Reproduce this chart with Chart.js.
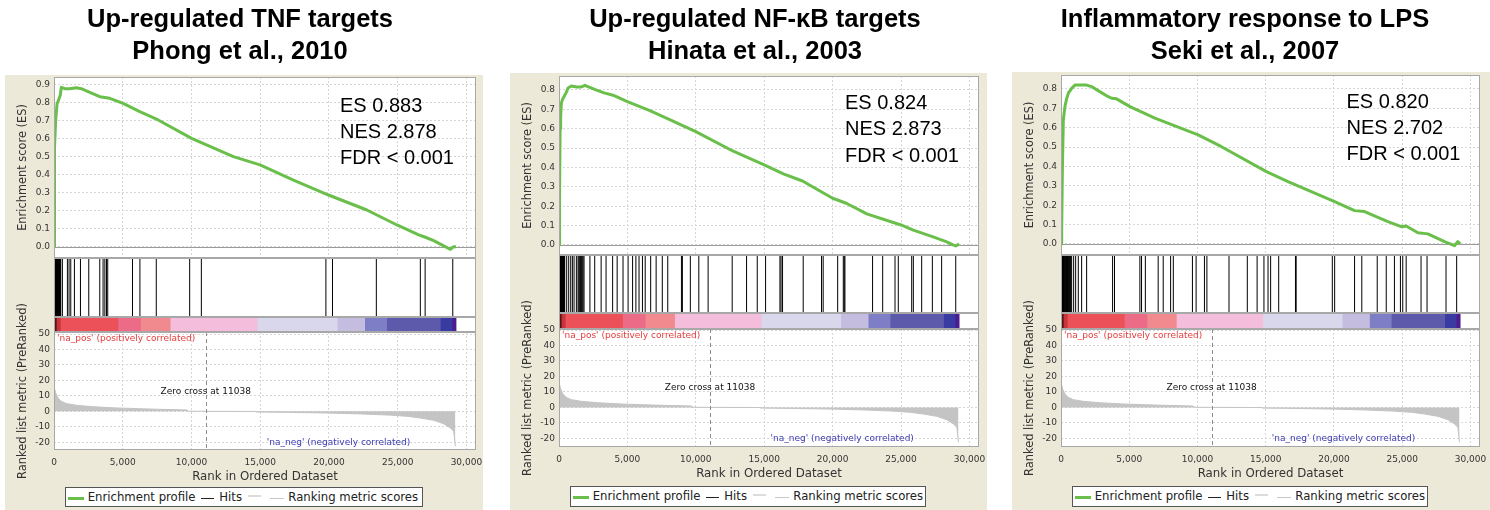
<!DOCTYPE html>
<html><head><meta charset="utf-8">
<script src="https://cdn.jsdelivr.net/npm/chart.js@4.4.1/dist/chart.umd.min.js"></script>
<style>
html,body{margin:0;padding:0;background:#fff;width:1490px;height:510px;overflow:hidden;position:relative;font-family:"Liberation Sans",Arial,sans-serif}
.beige{position:absolute;background:#ECE9D8}
.title{position:absolute;width:520px;text-align:center;font-weight:bold;font-size:25.5px;line-height:32px;color:#000;white-space:nowrap}
.stats{position:absolute;font-size:20px;line-height:26.3px;color:#000;white-space:nowrap}
.legend{position:absolute;border:1px solid #555;background:#fff;box-sizing:border-box;font-family:"DejaVu Sans";font-size:11.7px;color:#222;white-space:nowrap}
.legend span{position:absolute}
canvas{position:absolute}
</style>
</head><body>
<script>
// ---------------- data ----------------
const XMAX = 30700;
const zeroCrossRank = 11038;
const xTickValues = [0,5000,10000,15000,20000,25000,30000];
const esTicks09 = [0,0.1,0.2,0.3,0.4,0.5,0.6,0.7,0.8,0.9];
const esTicks08 = [0,0.1,0.2,0.3,0.4,0.5,0.6,0.7,0.8];
const metricTicks = [-20,-10,0,10,20,30,40,50];

// Panel 1: Up-regulated TNF targets (Phong et al., 2010)
const tnfRank = [0,25,50,120,220,365,460,535,780,1140,1630,1990,2480,3330,4060,5030,6240,7580,10010,13050,14990,17420,19970,22760,24950,26530,27020,27620,28840,29080,29250];
const tnfES   = [0,0.25,0.55,0.70,0.79,0.82,0.84,0.883,0.875,0.875,0.88,0.875,0.859,0.831,0.822,0.794,0.748,0.702,0.600,0.499,0.453,0.369,0.286,0.203,0.120,0.065,0.052,0.033,-0.015,0.0,0.0];
const tnfHits = [3,12,25,40,55,70,90,110,130,150,175,200,225,250,280,310,340,370,400,430,460,490,610,975,1095,1220,1485,1925,2530,3330,3570,3700,3820,3910,5710,6250,7440,9870,10720,19780,20260,23450,26650,27000,29010];

// Panel 2: Up-regulated NF-kB targets (Hinata et al., 2003)
const nfkbRank = [0,40,80,120,170,250,400,550,660,900,1300,1600,1900,2200,2700,3300,3950,5000,6600,7850,10000,12700,15000,16400,17800,20000,21000,22500,25000,25900,27400,28300,28800,29000,29250];
const nfkbES   = [0,0.25,0.60,0.66,0.73,0.75,0.77,0.79,0.81,0.82,0.815,0.815,0.824,0.815,0.80,0.785,0.773,0.74,0.694,0.654,0.585,0.485,0.413,0.367,0.33,0.241,0.215,0.16,0.103,0.076,0.04,0.017,0.0,-0.005,0.004];
const nfkbHits = [3,15,30,45,60,80,100,125,150,180,210,240,270,300,330,360,390,417,563,710,856,978,1100,1270,1390,1450,1514,1580,1636,1700,1760,1830,2260,2610,3080,3440,3920,4250,4680,5050,5380,5620,5850,6100,6300,6700,7100,7550,7950,8950,9020,9600,10220,10900,12660,13710,14490,15100,16150,16230,16340,17850,19190,19310,20370,20780,20850,20900,22920,23660,24560,24800,25780,25900,26510,27290,27970,29000];

// Panel 3: Inflammatory response to LPS (Seki et al., 2007)
const lpsRank = [0,50,100,170,290,415,540,780,1020,1880,2240,3460,3710,4070,5050,6880,10050,11760,15050,16630,20050,21510,22240,23950,24930,25290,26150,26880,28100,28830,29070,29250];
const lpsES   = [0,0.072,0.38,0.64,0.71,0.75,0.778,0.803,0.82,0.82,0.812,0.76,0.752,0.749,0.709,0.649,0.563,0.502,0.373,0.322,0.218,0.172,0.167,0.115,0.089,0.093,0.058,0.052,0.012,-0.009,0.012,0.0];
const lpsHits = [3,15,30,50,70,95,120,150,180,210,245,280,320,360,400,440,480,520,560,600,640,680,720,780,927,1073,1268,1512,1878,3780,3920,5780,5900,6180,7120,7490,8030,8230,9630,9900,10510,10690,12310,13650,14370,14870,15170,15360,15950,17180,17230,19880,20050,21510,22040,23170,23830,24430,24870,25040,25290,26380,26820,28210,28990];

// Ranked list metric (shared by all panels)
const metricRank = [0,20,50,120,290,530,900,1630,2840,4540,6240,7700,9650,9700,9750,11038,14700,14750,16930,19970,22400,24340,25680,26650,27620,28350,28840,29080,29200];
const metricVal  = [40,22,15,11.9,8.6,6.5,5.0,3.9,3.0,2.2,1.7,1.3,0.9,0.85,0.1,0,-0.1,-0.45,-0.65,-1.1,-1.7,-2.4,-3.2,-4.3,-5.8,-8.0,-10.8,-12.9,-22.6];

// Colour bar (rank boundaries of the heat-map segments)
const colorBarEdges = [0,170,460,4650,6300,8450,14780,20600,22600,24200,28100,28950,29250];
const colorBarColors = ['#5a1212','#c7343b','#ec5159','#ec6b86','#f08a8f','#f3bddb','#d9d7ec','#c5bde0','#7e7ec6','#5e5aab','#3a3aa3','#4b1d8e'];

const titles1 = ['Up-regulated TNF targets','Up-regulated NF-\u03baB targets','Inflammatory response to LPS'];
const titles2 = ['Phong et al., 2010','Hinata et al., 2003','Seki et al., 2007'];
const esLabels = ['ES 0.883','ES 0.824','ES 0.820'];
const nesLabels = ['NES 2.878','NES 2.873','NES 2.702'];
const fdrLabels = ['FDR < 0.001','FDR < 0.001','FDR < 0.001'];

// ---------------- layout ----------------
const panels = [
  {rank:tnfRank, es:tnfES, hits:tnfHits, esTicks:esTicks09, beige:[5,75,478,435], titleC:240,
   plot:{left:54,right:476,esTop:77,esBottom:258,hitsBottom:317,barBottom:332,metBottom:450},
   esMin:-0.063, esMax:0.94, metMin:-25, metMax:51.3, stats:[340,91.6], legend:[65,487,358,20]},
  {rank:nfkbRank, es:nfkbES, hits:nfkbHits, esTicks:esTicks08, beige:[510,73,477,437], titleC:755,
   plot:{left:559,right:979,esTop:76,esBottom:255,hitsBottom:313,barBottom:329,metBottom:447},
   esMin:-0.052, esMax:0.872, metMin:-25.6, metMax:50.65, stats:[845,89.2], legend:[570,486,356,21]},
  {rank:lpsRank, es:lpsES, hits:lpsHits, esTicks:esTicks08, beige:[1012,72,478,438], titleC:1245,
   plot:{left:1061,right:1480,esTop:75,esBottom:255,hitsBottom:313,barBottom:329,metBottom:447},
   esMin:-0.057, esMax:0.872, metMin:-25.6, metMax:50.65, stats:[1346.5,87.6], legend:[1072,486,356,21]}
];

const GREEN = '#6abf4a';
const GRID = '#d6d6d6';
const FRAME = '#a8a8a8';
const TICKFONT = {family:'DejaVu Sans', size:9};
const base = {animation:false, responsive:false, devicePixelRatio:1, events:[],
  plugins:{legend:{display:false}, tooltip:{enabled:false}}};
const setTicks = arr => (s => { s.ticks = arr.map(v => ({value:v})); });

const framePlugin = {
  id:'frame',
  beforeDraw(chart){
    const {ctx, chartArea:a} = chart;
    ctx.save(); ctx.fillStyle = '#fff';
    ctx.fillRect(a.left, a.top, a.right-a.left, a.bottom-a.top); ctx.restore();
  },
  afterDraw(chart){
    const {ctx, chartArea:a} = chart;
    ctx.save(); ctx.strokeStyle = FRAME; ctx.lineWidth = 1;
    ctx.strokeRect(Math.round(a.left)+0.5, Math.round(a.top)+0.5, Math.round(a.right-a.left)-1, Math.round(a.bottom-a.top)-1);
    ctx.restore();
  }
};

function div(cls, x, y, html){
  const d = document.createElement('div'); d.className = cls;
  d.style.left = x+'px'; d.style.top = y+'px'; d.innerHTML = html;
  document.body.appendChild(d); return d;
}
function addCanvas(x, y, w, h){
  const c = document.createElement('canvas');
  c.width = w; c.height = h;
  c.style.cssText = `left:${x}px;top:${y}px;width:${w}px;height:${h}px`;
  document.body.appendChild(c); return c;
}

panels.forEach(P => {
  const b = document.createElement('div'); b.className = 'beige';
  b.style.cssText = `left:${P.beige[0]}px;top:${P.beige[1]}px;width:${P.beige[2]}px;height:${P.beige[3]}px`;
  document.body.appendChild(b);
});

panels.forEach((P, pi) => {
  const p = P.plot, plotW = p.right - p.left;
  const axW = 45, padT = 12, padB = 12, padR = 15;

  // ---- Enrichment score chart ----
  const esH = p.esBottom - p.esTop;
  const c1 = addCanvas(p.left - axW, p.esTop - padT, axW + plotW + padR, padT + esH + padB);
  const zeroLine = {id:'zeroLine', beforeDatasetsDraw(chart){
    const {ctx, chartArea:a, scales:{y}} = chart; const yy = Math.round(y.getPixelForValue(0)) + 0.5;
    ctx.save(); ctx.strokeStyle = '#9a9a9a'; ctx.lineWidth = 1; ctx.beginPath();
    ctx.moveTo(a.left, yy); ctx.lineTo(a.right, yy); ctx.stroke(); ctx.restore();
  }};
  new Chart(c1, {type:'line',
    data:{datasets:[{data:P.rank.map((r,i)=>({x:r, y:P.es[i]})), borderColor:GREEN, borderWidth:3,
      pointRadius:0, tension:0, fill:false, borderJoinStyle:'round'}]},
    options:{...base, layout:{autoPadding:false, padding:{left:0, top:padT, right:padR, bottom:padB}},
      scales:{
        x:{type:'linear', min:0, max:XMAX, ticks:{display:false},
           grid:{color:GRID, drawTicks:false}, border:{display:false, dash:[2,2]},
           afterBuildTicks:setTicks(xTickValues), afterFit(s){s.height = 0;}},
        y:{type:'linear', min:P.esMin, max:P.esMax,
           ticks:{padding:4, font:TICKFONT, color:'#333', callback:v=>Number(v).toFixed(1)},
           grid:{color:GRID, drawTicks:false}, border:{display:false, dash:[2,2]},
           title:{display:true, text:'Enrichment score (ES)', font:{family:'DejaVu Sans', size:11.4}, color:'#333', padding:{top:7, bottom:0}},
           afterBuildTicks:setTicks(P.esTicks), afterFit(s){s.width = axW;}}
      }},
    plugins:[framePlugin, zeroLine]});

  // ---- Hits chart ----
  const hitsH = p.hitsBottom - p.esBottom;
  const c2 = addCanvas(p.left, p.esBottom, plotW, hitsH);
  new Chart(c2, {type:'scatter',
    data:{datasets:[{data:P.hits.map(r=>({x:r, y:0.5})), pointStyle:'line', pointRotation:90,
      pointRadius:hitsH/2, pointBorderColor:'#000', pointBorderWidth:1, pointBackgroundColor:'#000', clip:false}]},
    options:{...base, layout:{autoPadding:false, padding:0},
      scales:{x:{type:'linear', min:0, max:XMAX, display:false}, y:{type:'linear', min:0, max:1, display:false}}},
    plugins:[framePlugin]});

  // ---- Colour bar ----
  const barH = p.barBottom - p.hitsBottom;
  const c3 = addCanvas(p.left, p.hitsBottom, plotW, barH);
  new Chart(c3, {type:'bar',
    data:{labels:['bar'], datasets:colorBarColors.map((col,i)=>({data:[[colorBarEdges[i], colorBarEdges[i+1]]],
      backgroundColor:col, borderWidth:0, grouped:false, barPercentage:1, categoryPercentage:1}))},
    options:{...base, indexAxis:'y', layout:{autoPadding:false, padding:0},
      scales:{x:{type:'linear', min:0, max:XMAX, display:false}, y:{display:false}}},
    plugins:[framePlugin]});

  // ---- Ranked list metric ----
  const metH = p.metBottom - p.barBottom, xAxH = 34, mPadT = 45;
  const c4 = addCanvas(p.left - axW, p.barBottom - mPadT, axW + plotW + padR, mPadT + metH + xAxH + 2);
  const metExtras = {id:'metExtras', afterDatasetsDraw(chart){
    const {ctx, chartArea:a, scales:{x, y}} = chart;
    const zx = Math.round(x.getPixelForValue(zeroCrossRank)) + 0.5;
    ctx.save();
    ctx.strokeStyle = '#8c8c8c'; ctx.lineWidth = 1; ctx.setLineDash([4,3]);
    ctx.beginPath(); ctx.moveTo(zx, a.top); ctx.lineTo(zx, a.bottom); ctx.stroke();
    ctx.setLineDash([]);
    ctx.font = '9px "DejaVu Sans"'; ctx.textBaseline = 'middle';
    ctx.fillStyle = '#e53a3a'; ctx.textAlign = 'left';
    ctx.fillText("'na_pos' (positively correlated)", a.left + 3, a.top + 6.5);
    ctx.fillStyle = '#111'; ctx.textAlign = 'center';
    ctx.fillText('Zero cross at ' + zeroCrossRank, x.getPixelForValue(zeroCrossRank), y.getPixelForValue(12.8));
    ctx.fillStyle = '#3a3ab4';
    ctx.fillText("'na_neg' (negatively correlated)", x.getPixelForValue(20700), y.getPixelForValue(-20.5));
    ctx.restore();
  }};
  new Chart(c4, {type:'line',
    data:{datasets:[{data:metricRank.map((r,i)=>({x:r, y:metricVal[i]})), fill:'origin',
      backgroundColor:'#c4c4c4', borderColor:'#c4c4c4', borderWidth:1, pointRadius:0, tension:0}]},
    options:{...base, layout:{autoPadding:false, padding:{left:0, top:mPadT, right:padR, bottom:2}},
      scales:{
        x:{type:'linear', min:0, max:XMAX,
           ticks:{padding:7, maxRotation:0, autoSkip:false, font:TICKFONT, color:'#333',
                  callback:v=>Number(v).toLocaleString('en-US')},
           grid:{color:GRID, drawTicks:false}, border:{display:false, dash:[2,2]},
           title:{display:true, text:'Rank in Ordered Dataset', font:{family:'DejaVu Sans', size:11.8}, color:'#333', padding:{top:0, bottom:0}},
           afterBuildTicks:setTicks(xTickValues), afterFit(s){s.height = xAxH;}},
        y:{type:'linear', min:P.metMin, max:P.metMax,
           ticks:{padding:4, font:TICKFONT, color:'#333', callback:v=>String(v)},
           grid:{color:GRID, drawTicks:false}, border:{display:false, dash:[2,2]},
           title:{display:true, text:'Ranked list metric (PreRanked)', font:{family:'DejaVu Sans', size:11.4}, color:'#333', padding:{top:7, bottom:0}},
           afterBuildTicks:setTicks(metricTicks), afterFit(s){s.width = axW;}}
      }},
    plugins:[framePlugin, metExtras]});

  // ---- texts ----
  div('title', P.titleC - 260, 2, titles1[pi] + '<br>' + titles2[pi]);
  div('stats', P.stats[0], P.stats[1], esLabels[pi] + '<br>' + nesLabels[pi] + '<br>' + fdrLabels[pi]);
  const L = P.legend;
  const lg = div('legend', L[0], L[1],
    '<span style="left:1.7px;top:8.5px;width:16.6px;height:3px;background:'+GREEN+'"></span>' +
    '<span style="left:21.7px;top:0;line-height:'+(L[3]-2)+'px">Enrichment profile</span>' +
    '<span style="left:135px;top:9.5px;width:13.3px;height:1px;background:#222"></span>' +
    '<span style="left:153.3px;top:0;line-height:'+(L[3]-2)+'px">Hits</span>' +
    '<span style="left:181.7px;top:6.5px;width:13.3px;height:2px;background:#dcdcdc"></span>' +
    '<span style="left:204.3px;top:9.5px;width:14px;height:1.5px;background:#c8c8c8"></span>' +
    '<span style="left:222.3px;top:0;line-height:'+(L[3]-2)+'px">Ranking metric scores</span>');
  lg.style.width = L[2]+'px'; lg.style.height = L[3]+'px';
});
</script>
</body></html>
